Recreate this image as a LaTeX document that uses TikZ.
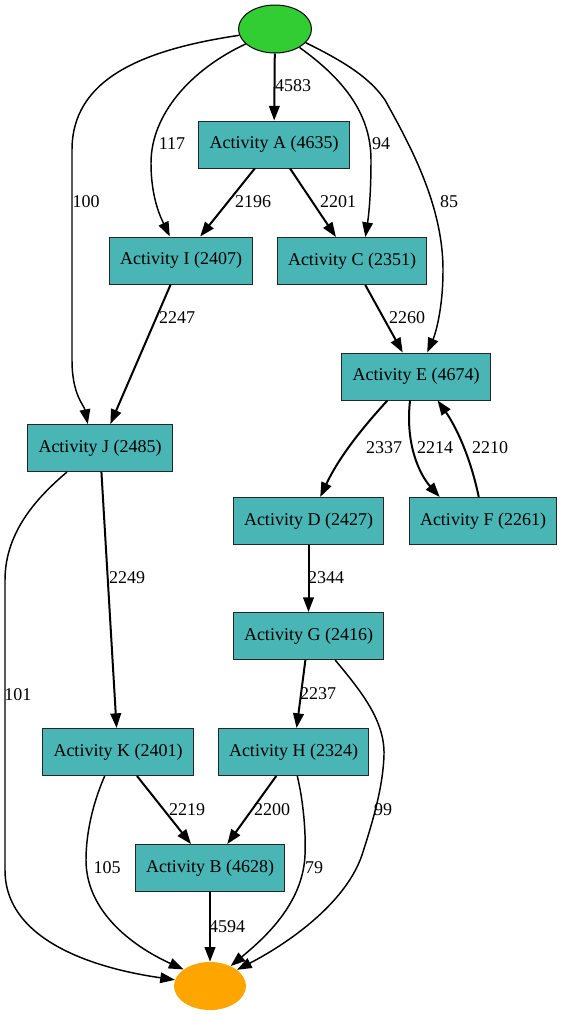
\documentclass[tikz,border=0pt]{standalone}
\usepackage{fontspec}
\setmainfont{Liberation Serif}
\usepackage{tikz}
\usetikzlibrary{arrows.meta}
\usetikzlibrary{shapes.geometric}
\definecolor{actfill}{RGB}{73,181,181}
\definecolor{startfill}{RGB}{50,205,50}
\definecolor{endfill}{RGB}{255,165,0}

\begin{document}
\begin{tikzpicture}[x=0.75pt,y=-0.75pt,
				every node/.style={font=\fontsize{13.5}{16}\selectfont},
				actnode/.style={rectangle,draw=black!85,line width=0.75pt,fill=actfill,minimum height=35.25pt,inner xsep=8pt,inner ysep=0pt},
				startnode/.style={ellipse,draw,line width=0.75pt,fill=startfill,minimum width=54.75pt,minimum height=36pt,inner sep=0pt},
				endnode/.style={ellipse,fill=endfill,minimum width=54pt,minimum height=36pt,inner sep=0pt},
				freq/.style={line width=1.5pt,-{Triangle[length=11pt,width=8pt]}},
				rarefreq/.style={line width=1.1pt,-{Triangle[length=11pt,width=8pt]}},
				elabel/.style={inner sep=0pt}
				]
				\useasboundingbox (0,0) rectangle (564,1015);
				% start, end and the activities
				\node (s) [startnode] at (275,29) {};
				\node (a) [actnode] at (274,144.5) {Activity A (4635)};
				\node (i) [actnode] at (181,260.5) {Activity I (2407)};
				\node (c) [actnode] at (352,261) {Activity C (2351)};
				\node (e) [actnode] at (416,376.5) {Activity E (4674)};
				\node (j) [actnode] at (100,448) {Activity J (2485)};
				\node (d) [actnode] at (308.5,521) {Activity D (2427)};
				\node (f) [actnode] at (483,521) {Activity F (2261)};
				\node (g) [actnode] at (308.5,636) {Activity G (2416)};
				\node (k) [actnode] at (118,752) {Activity K (2401)};
				\node (h) [actnode] at (293.5,752) {Activity H (2324)};
				\node (b) [actnode] at (210,868) {Activity B (4628)};
				\node (t) [endnode] at (210,986) {};
				% frequent flows
				\draw[freq] (s) -- (a) node[elabel,at={(293,86)}] {4583};
				\draw[freq] (a) -- (i) node[elabel,at={(253,202)}] {2196};
				\draw[freq] (a) -- (c) node[elabel,at={(338,202)}] {2201};
				\draw[freq] (i) -- (j) node[elabel,at={(177,318)}] {2247};
				\draw[freq] (c) -- (e) node[elabel,at={(407,318)}] {2260};
				\draw[freq] (e.220) .. controls (365,425) and (340,455) .. (d.64) node[elabel,at={(384,448)}] {2337};
				\draw[freq] (e.256) .. controls (405,445) and (420,475) .. (f.151) node[elabel,at={(435,448)}] {2214};
				\draw[freq] (f.100) .. controls (470,455) and (455,425) .. (e.312) node[elabel,at={(490,448)}] {2210};
				\draw[freq] (j) -- (k) node[elabel,at={(127,578)}] {2249};
				\draw[freq] (d) -- (g) node[elabel,at={(326,578)}] {2344};
				\draw[freq] (g) -- (h) node[elabel,at={(318,694)}] {2237};
				\draw[freq] (k) -- (b) node[elabel,at={(187,810)}] {2219};
				\draw[freq] (h) -- (b) node[elabel,at={(272,810)}] {2200};
				\draw[freq] (b) -- (t) node[elabel,at={(227,927)}] {4594};
				% rare flows
				\draw[rarefreq] (s.190) .. controls (140,50) and (72,80) .. (72,150) -- (72,360)
					.. controls (72,395) and (84,405) .. (j.117) node[elabel,at={(86,202)}] {100};
				\draw[rarefreq] (s.207) .. controls (190,70) and (151,115) .. (151,163)
					.. controls (151,200) and (162,220) .. (i.115) node[elabel,at={(172,144)}] {117};
				\draw[rarefreq] (s.323) .. controls (345,80) and (371,115) .. (371,160)
					.. controls (371,200) and (368,220) .. (c.61) node[elabel,at={(381,144)}] {94};
				\draw[rarefreq] (s.336) .. controls (345,62) and (370,78) .. (385,100)
					.. controls (410,145) and (443,205) .. (443,270)
					.. controls (443,310) and (435,335) .. (e.65) node[elabel,at={(449,202)}] {85};
				\draw[rarefreq] (j.216) .. controls (40,495) and (5,530) .. (5,580) -- (5,870)
					.. controls (5,950) and (120,972) .. (t.170) node[elabel,at={(18,695)}] {101};
				\draw[rarefreq] (k.241) .. controls (92,805) and (86,835) .. (86,860)
					.. controls (86,910) and (130,945) .. (t.148) node[elabel,at={(107,868)}] {105};
				\draw[rarefreq] (h.279) .. controls (303,800) and (306,830) .. (305,855)
					.. controls (303,905) and (262,940) .. (t.44) node[elabel,at={(314,868)}] {79};
				\draw[rarefreq] (g.318) .. controls (360,690) and (385,720) .. (384,755)
					.. controls (383,790) and (370,830) .. (362,855)
					.. controls (345,905) and (285,945) .. (t.31) node[elabel,at={(383,810)}] {99};
\end{tikzpicture}
\end{document}
